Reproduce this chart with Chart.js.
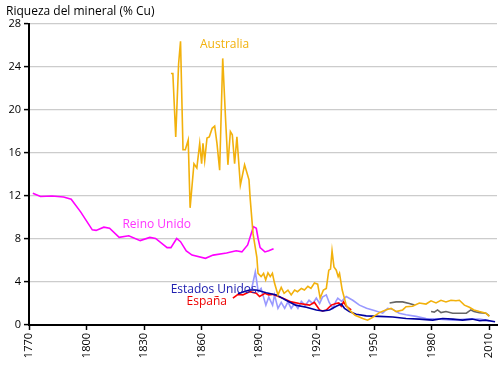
<!DOCTYPE html>
<html>
<head>
<meta charset="utf-8">
<script src="https://cdn.jsdelivr.net/npm/chart.js@4"></script>
<style>
    body { margin: 0; background: #fff; }
    #wrap { width: 500px; height: 367px; position: relative; }
</style>
</head>
<body>
<div id="wrap"><canvas id="oreChart"></canvas></div>
<script>
// Copper ore grade (% Cu) by country

const yTicks = [0, 4, 8, 12, 16, 20, 24, 28];
const xTicks = [1770, 1800, 1830, 1860, 1890, 1920, 1950, 1980, 2010];

const australiaYears = [1844, 1845, 1846.5, 1848, 1849, 1850.3, 1851.5, 1853, 1854, 1856, 1857.5, 1859, 1860, 1860.7, 1861.6, 1862.8, 1864, 1865.5, 1866.8, 1868, 1869.4, 1871, 1872.5, 1873.7, 1875, 1876, 1877.2, 1878.4, 1880.2, 1882.4, 1884.7, 1885.3, 1886.8, 1888.8, 1889.4, 1891, 1892.3, 1893.4, 1894.6, 1895.8, 1896.9, 1898, 1899.8, 1901.5, 1903, 1905, 1906.7, 1908.5, 1910, 1912, 1913.6, 1915.4, 1917, 1918.8, 1920.5, 1921.8, 1923.5, 1925, 1926.3, 1927.2, 1928, 1929, 1930.2, 1931.2, 1931.9, 1933.3, 1935.4, 1937, 1940, 1944, 1946.5, 1949, 1952.7, 1956, 1958.8, 1961.4, 1964.8, 1966.6, 1970, 1973.5, 1977, 1979.6, 1982.2, 1984.8, 1987.4, 1990, 1992.6, 1994.4, 1997, 1999.6, 2002, 2004.8, 2008.2, 2010];
const australiaValues = [23.4, 23.4, 17.5, 24.3, 26.4, 16.3, 16.3, 17.2, 10.9, 15.0, 14.6, 16.9, 15.0, 16.9, 15.3, 17.4, 17.5, 18.3, 18.5, 16.9, 14.4, 24.8, 19.1, 14.9, 18.0, 17.7, 15.0, 17.5, 13.0, 14.9, 13.5, 11.8, 8.5, 6.3, 4.8, 4.5, 4.8, 4.2, 4.85, 4.5, 4.8, 3.9, 2.8, 3.5, 2.95, 3.25, 2.8, 3.25, 3.1, 3.4, 3.25, 3.6, 3.4, 3.9, 3.8, 2.5, 3.25, 3.4, 5.1, 5.2, 6.9, 5.4, 5.1, 4.5, 4.8, 3.25, 1.85, 1.4, 0.9, 0.6, 0.45, 0.7, 1.15, 1.4, 1.55, 1.25, 1.4, 1.7, 1.75, 2.05, 1.95, 2.25, 2.05, 2.3, 2.15, 2.3, 2.25, 2.3, 1.85, 1.65, 1.4, 1.25, 1.1, 0.8];

const ukYears = [1772, 1776, 1782, 1788, 1792, 1797, 1803, 1805, 1809, 1812, 1817, 1822, 1828, 1833, 1836, 1842, 1844, 1847, 1849, 1852, 1855, 1862, 1866, 1873, 1878, 1881, 1884, 1887, 1888.5, 1889.5, 1890.5, 1893, 1895, 1897.5];
const ukValues = [12.25, 11.95, 12.0, 11.9, 11.7, 10.5, 8.85, 8.8, 9.1, 9.0, 8.15, 8.3, 7.85, 8.15, 8.05, 7.2, 7.2, 8.05, 7.75, 6.9, 6.5, 6.2, 6.5, 6.7, 6.9, 6.8, 7.45, 9.15, 9.0, 8.0, 7.2, 6.8, 6.9, 7.1];

const usaYears = [1879, 1882, 1885, 1888.5, 1893.7, 1899, 1904, 1909, 1914.6, 1919.8, 1923.2, 1926.7, 1930.2, 1932.8, 1934.5, 1937, 1940.6, 1945.8, 1952.7, 1959.7, 1966.6, 1973.5, 1980.5, 1985.7, 1991, 1996, 2001, 2005, 2008, 2013];
const usaValues = [2.9, 3.1, 3.25, 3.25, 3.0, 2.8, 2.3, 1.85, 1.65, 1.4, 1.3, 1.4, 1.75, 1.95, 1.55, 1.25, 1.0, 0.85, 0.8, 0.75, 0.6, 0.55, 0.45, 0.6, 0.55, 0.45, 0.55, 0.4, 0.45, 0.3];

const spainYears = [1876.3, 1879, 1881.5, 1885, 1888.5, 1890.2, 1893, 1895, 1897, 1902.4, 1906.7, 1911, 1916.3, 1918.8, 1921.5, 1923, 1925, 1927.6, 1930, 1931.5, 1932.8, 1934, 1935.4, 1938];
const spainValues = [2.5, 2.85, 2.8, 3.1, 2.95, 2.65, 2.95, 2.8, 2.85, 2.5, 2.15, 2.0, 1.85, 2.1, 1.4, 1.3, 1.4, 1.85, 2.0, 2.05, 1.75, 2.15, 1.75, 1.4];

const otherYears = [1886, 1888, 1889.5, 1891, 1893.5, 1895, 1897, 1898, 1899.8, 1901.5, 1903.3, 1905, 1906.7, 1908.5, 1910.2, 1912, 1914, 1916, 1918, 1919.8, 1921.5, 1923, 1925, 1926.5, 1928.4, 1930, 1931, 1933, 1935.4, 1938.8, 1942.3, 1946, 1950, 1954.4, 1957, 1959.7, 1963, 1966.6, 1971.8, 1977, 1984, 1991, 1998, 2005, 2010];
const otherValues = [3.3, 4.95, 3.1, 3.4, 1.85, 2.6, 1.85, 2.8, 1.55, 2.1, 1.55, 2.15, 1.55, 2.0, 1.55, 2.2, 1.8, 2.3, 2.0, 2.5, 2.0, 2.6, 2.8, 2.1, 1.55, 2.2, 2.5, 2.2, 2.65, 2.3, 1.85, 1.55, 1.35, 1.1, 1.55, 1.45, 1.1, 0.95, 0.8, 0.6, 0.55, 0.45, 0.55, 0.55, 0.4];

const grayYears = [1958, 1961.4, 1964.8, 1968.3, 1971, null, 1979.6, 1981.3, 1983, 1984.8, 1987.4, 1990.9, 1994.4, 1998, 2000.4, 2002, 2004.8, 2008.2, 2010];
const grayValues = [2.05, 2.15, 2.15, 2.0, 1.85, null, 1.25, 1.2, 1.4, 1.15, 1.25, 1.1, 1.1, 1.1, 1.4, 1.25, 1.15, 1.1, 0.85];

function toPoints(xs, ys) {
    return xs.map((x, i) => ({ x: x, y: ys[i] }));
}

function series(label, xs, ys, color) {
    return {
        label: label,
        data: toPoints(xs, ys),
        borderColor: color,
        borderWidth: 1.6,
        pointRadius: 0,
        tension: 0,
        fill: false,
        spanGaps: false
    };
}

// Series names written inside the plot, and the title
const labelPlugin = {
    id: 'seriesLabels',
    afterDatasetsDraw(chart) {
        const c = chart.ctx;
        const xs = chart.scales.x;
        const ys = chart.scales.y;
        const labels = [
            { text: 'Australia', x: 1872, y: 26.05, color: '#f2b10c' },
            { text: 'Reino Unido', x: 1836.6, y: 9.3, color: '#ff33ff' },
            { text: 'Estados Unidos', x: 1866.3, y: 3.26, color: '#2020b0' },
            { text: 'España', x: 1862.7, y: 2.14, color: '#ee0000' }
        ];
        c.save();
        c.font = "12px 'Open Sans'";
        c.textAlign = 'center';
        c.textBaseline = 'middle';
        labels.forEach(l => {
            c.fillStyle = l.color;
            c.fillText(l.text, xs.getPixelForValue(l.x), ys.getPixelForValue(l.y));
        });
        c.textAlign = 'left';
        c.fillStyle = '#000';
        c.fillText('Riqueza del mineral (% Cu)', 6, 12);
        c.restore();
    }
};

new Chart(document.getElementById('oreChart'), {
    type: 'line',
    data: {
        datasets: [
            series('Australia', australiaYears, australiaValues, '#f2b10c'),
            series('Estados Unidos', usaYears, usaValues, '#0000a0'),
            series('España', spainYears, spainValues, '#ff0000'),
            series('Reino Unido', ukYears, ukValues, '#ff00ff'),
            series('Otros', grayYears, grayValues, '#666666'),
            series('Mundo', otherYears, otherValues, '#9999ff')
        ]
    },
    options: {
        responsive: true,
        maintainAspectRatio: false,
        animation: false,
        layout: {
            padding: { top: 24, right: 3, left: 0, bottom: 0 }
        },
        plugins: {
            legend: { display: false },
            tooltip: { enabled: false }
        },
        scales: {
            x: {
                type: 'linear',
                min: 1770,
                max: 2014,
                afterBuildTicks: function (scale) {
                    scale.ticks = xTicks.map(v => ({ value: v }));
                },
                afterFit: function (scale) {
                    scale.height = 42;
                    scale.paddingLeft = 0;
                    scale.paddingRight = 0;
                },
                border: { color: '#000', width: 2 },
                grid: {
                    drawOnChartArea: false,
                    tickLength: 5,
                    tickColor: '#000',
                    tickWidth: 1.5
                },
                ticks: {
                    minRotation: 90,
                    maxRotation: 90,
                    padding: 3,
                    color: '#000',
                    font: { size: 11, family: "'Open Sans'" },
                    callback: function (value) {
                        return String(value);
                    }
                }
            },
            y: {
                min: 0,
                max: 28,
                afterBuildTicks: function (scale) {
                    scale.ticks = yTicks.map(v => ({ value: v }));
                },
                afterFit: function (scale) {
                    scale.width = 29;
                },
                border: { color: '#000', width: 2 },
                grid: {
                    color: '#cccccc',
                    lineWidth: 1.2,
                    tickLength: 5,
                    tickColor: '#000',
                    tickWidth: 1.5
                },
                ticks: {
                    padding: 3,
                    color: '#000',
                    font: { size: 11, family: "'Open Sans'" }
                }
            }
        }
    },
    plugins: [labelPlugin]
});
</script>
</body>
</html>
